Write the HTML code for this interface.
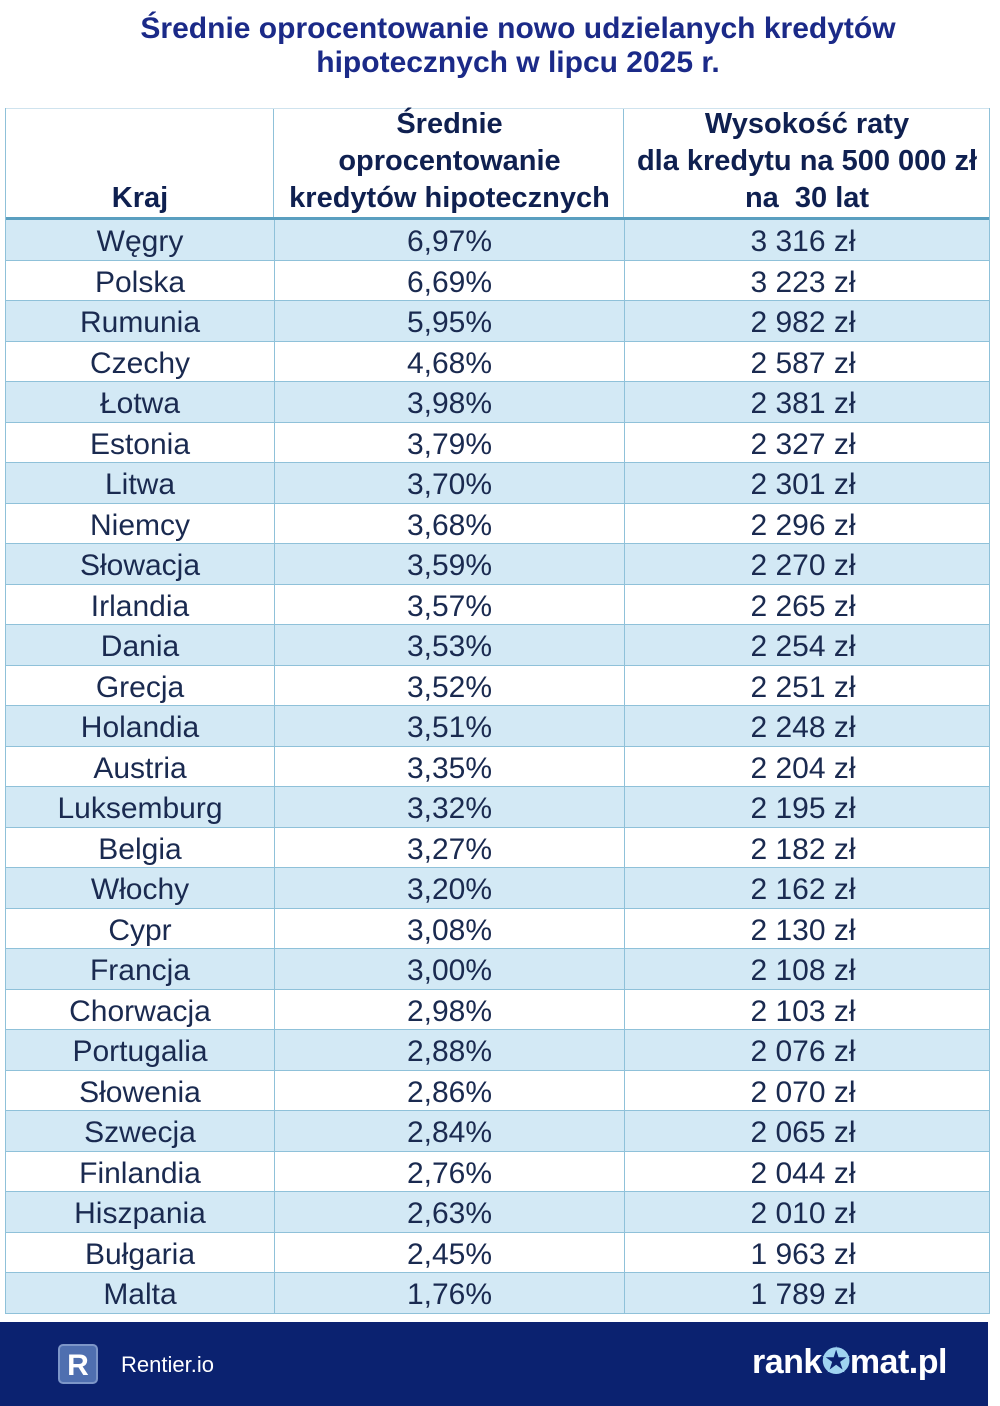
<!DOCTYPE html>
<html><head><meta charset="utf-8"><style>
body{margin:0;width:1000px;height:1406px;background:#fff;position:relative;overflow:hidden;font-family:"Liberation Sans",sans-serif;color:#1a2a50}
.t{position:absolute;left:0;width:1036px;text-align:center;top:12px;font-weight:bold;font-size:30px;line-height:34px;color:#1b2a88}
.tbl{position:absolute;left:5px;top:108px;width:983px;border-left:1px solid #8fc1d9;border-right:1px solid #8fc1d9}
.h{height:108px;position:relative;border-bottom:3px solid #5a9fc0;border-top:1px solid #cfe3ee}
.h div{position:absolute;bottom:0;text-align:center;font-weight:bold;font-size:29px;line-height:37px;color:#0f2050;white-space:nowrap}
.r{height:40.5px;border-bottom:1px solid #8fc1d9;box-sizing:border-box;display:flex;font-size:30px;line-height:44px}
.r:nth-child(odd){background:#d3e9f5}
.r span{text-align:center;display:block}
.c1{width:268px;border-right:1px solid #8fc1d9}.c2{width:349px;border-right:1px solid #8fc1d9}.c3{width:364px}
.vl{position:absolute;top:0;bottom:0;width:1px;background:#8fc1d9}
.f{position:absolute;left:0;top:1322px;width:988px;height:84px;background:#0b2270}
</style></head><body>
<div class="t">Średnie oprocentowanie nowo udzielanych kredytów<br>hipotecznych w lipcu 2025 r.</div>
<div class="tbl">
<div class="h"><div style="left:0;width:268px">Kraj</div><div style="left:269px;width:349px">Średnie<br>oprocentowanie<br>kredytów hipotecznych</div><div style="left:619px;width:364px">Wysokość raty<br>dla kredytu na 500 000 zł<br>na&nbsp; 30 lat</div><span class="vl" style="left:267px"></span><span class="vl" style="left:617px"></span></div>
<div id="b"></div>
</div>
<div class="f">
<div style="position:absolute;left:58px;top:22px;width:40px;height:40px;border:2px solid #7d96c8;border-radius:5px;background:#4f6fb0;color:#fff;font-weight:bold;font-size:30px;line-height:40px;text-align:center;box-sizing:border-box">R</div>
<div style="position:absolute;left:121px;top:30px;color:#fff;font-size:22px">Rentier.io</div>
<div style="position:absolute;left:752px;top:20px;color:#fff;font-size:34px;font-weight:bold;letter-spacing:-0.5px">rank<span style="color:#9fd3f0">✪</span>mat.pl</div>
</div>
<script>
var d=[["Węgry","6,97%","3 316 zł"],["Polska","6,69%","3 223 zł"],["Rumunia","5,95%","2 982 zł"],["Czechy","4,68%","2 587 zł"],["Łotwa","3,98%","2 381 zł"],["Estonia","3,79%","2 327 zł"],["Litwa","3,70%","2 301 zł"],["Niemcy","3,68%","2 296 zł"],["Słowacja","3,59%","2 270 zł"],["Irlandia","3,57%","2 265 zł"],["Dania","3,53%","2 254 zł"],["Grecja","3,52%","2 251 zł"],["Holandia","3,51%","2 248 zł"],["Austria","3,35%","2 204 zł"],["Luksemburg","3,32%","2 195 zł"],["Belgia","3,27%","2 182 zł"],["Włochy","3,20%","2 162 zł"],["Cypr","3,08%","2 130 zł"],["Francja","3,00%","2 108 zł"],["Chorwacja","2,98%","2 103 zł"],["Portugalia","2,88%","2 076 zł"],["Słowenia","2,86%","2 070 zł"],["Szwecja","2,84%","2 065 zł"],["Finlandia","2,76%","2 044 zł"],["Hiszpania","2,63%","2 010 zł"],["Bułgaria","2,45%","1 963 zł"],["Malta","1,76%","1 789 zł"]];
var h="";d.forEach(function(r){h+='<div class="r"><div class="c1"><span>'+r[0]+'</span></div><div class="c2"><span>'+r[1]+'</span></div><div class="c3"><span style="margin-left:-8px">'+r[2]+'</span></div></div>'});
document.getElementById("b").innerHTML=h;
</script>
</body></html>
